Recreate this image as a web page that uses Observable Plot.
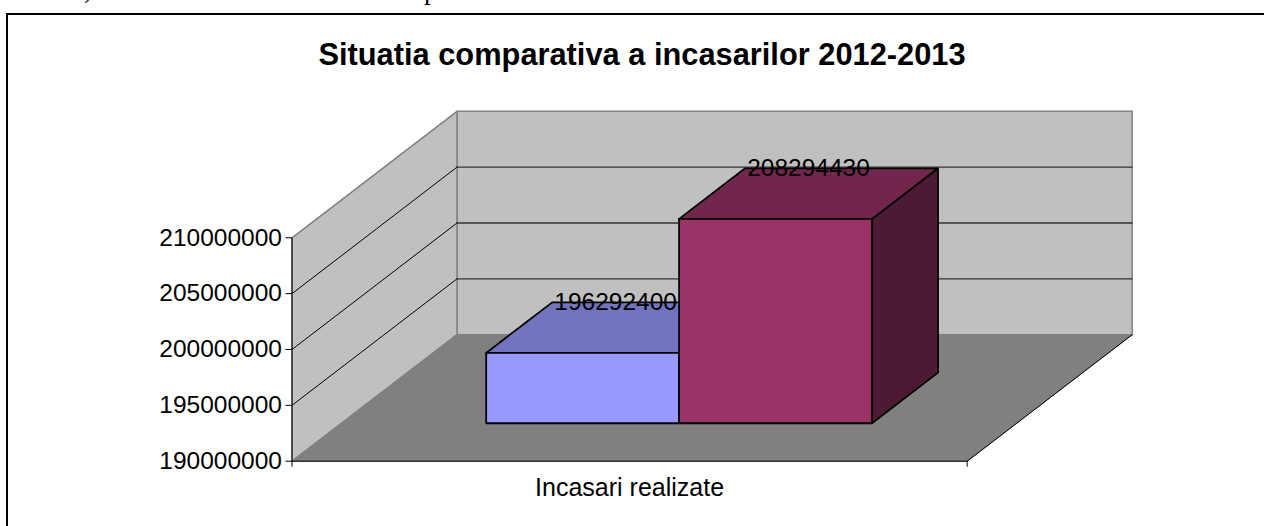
<!DOCTYPE html>
<html>
<head>
<meta charset="utf-8">
<script src="https://cdn.jsdelivr.net/npm/d3@7"></script>
<script src="https://cdn.jsdelivr.net/npm/@observablehq/plot@0.6"></script>
<style>
  html, body { margin: 0; padding: 0; background: #fff; overflow: hidden; }
  #page { position: relative; width: 1264px; height: 526px; overflow: hidden; }
  #frame { position: absolute; left: 6px; top: 13px; width: 1300px; height: 600px; border: 2.4px solid #000; box-sizing: border-box; }
  #title { position: absolute; left: 0; top: 37px; width: 1284px; text-align: center; font: bold 30.8px "Liberation Sans", Arial, sans-serif; color: #000; white-space: nowrap; }
  #clip { position: absolute; left: 0; top: -25px; width: 1264px; font: 27px "Liberation Serif", serif; color: #000; white-space: nowrap; }
  #clip span { position: absolute; }
  svg { position: absolute; left: 0; top: 0; }
</style>
</head>
<body>
<div id="page">
  <div id="clip"><span style="left:84px">,</span><span style="left:424px">p</span></div>
  <div id="frame"></div>
  <div id="chart"></div>
  <div id="title"></div>
</div>
<script>
const chartTitle = "Situatia comparativa a incasarilor 2012-2013";
const categoryLabel = "Incasari realizate";
const years = ["2012", "2013"];
const values = [196292400, 208294430];
const yTicks = [190000000, 195000000, 200000000, 205000000, 210000000];
const frontColors = ["#9999ff", "#993366"];
const topColors = ["#7373bf", "#73264d"];
const sideColors = ["#4d4d80", "#4d1a33"];

const yMin = 190000000, yMax = 210000000;
const depthX = 165 / 675.2;
const depthY = 126.5 / 223.4 * (yMax - yMin);
const gapRatio = 1.5;
const barW = 1 / (years.length + gapRatio);
const depthNear = 0.3, depthFar = 0.7;

const P = (u, v, d) => ({x: u + d * depthX, y: v + d * depthY});
const poly = (id, fill, pts) => [...pts, pts[0]].map(p => ({id, fill, ...p}));

document.getElementById("title").textContent = chartTitle;

const backWall = poly("back", "#c0c0c0", [P(0, yMin, 1), P(1, yMin, 1), P(1, yMax, 1), P(0, yMax, 1)]);
const leftWall = poly("left", "#c0c0c0", [P(0, yMin, 0), P(0, yMin, 1), P(0, yMax, 1), P(0, yMax, 0)]);
const floor = poly("floor", "#808080", [P(0, yMin, 0), P(1, yMin, 0), P(1, yMin, 1), P(0, yMin, 1)]);

const inner = yTicks.slice(1, -1);
const gridBack = inner.flatMap(t => [{id: t, ...P(0, t, 1)}, {id: t, ...P(1, t, 1)}]);
const gridLeft = inner.flatMap(t => [{id: t, ...P(0, t, 0)}, {id: t, ...P(0, t, 1)}]);

const barFaces = values.flatMap((v, i) => {
  const u0 = gapRatio / 2 * barW + i * barW, u1 = u0 + barW;
  const n = depthNear, f = depthFar;
  return [
    ...poly(`side${i}`, sideColors[i], [P(u1, yMin, n), P(u1, yMin, f), P(u1, v, f), P(u1, v, n)]),
    ...poly(`top${i}`, topColors[i], [P(u0, v, n), P(u1, v, n), P(u1, v, f), P(u0, v, f)]),
    ...poly(`front${i}`, frontColors[i], [P(u0, yMin, n), P(u1, yMin, n), P(u1, v, n), P(u0, v, n)])
  ];
});

const labels = values.map((v, i) => {
  const uc = gapRatio / 2 * barW + (i + 0.5) * barW;
  return {x: P(uc, v, 0.5).x, y: P(uc, v, depthFar).y, text: String(v)};
});

const fs = 24.5;
const chart = Plot.plot({
  width: 1264, height: 526,
  marginLeft: 291.5, marginRight: 1264 - 966.7,
  marginTop: 237.3, marginBottom: 526 - 460.7,
  style: {fontFamily: '"Liberation Sans", Arial, sans-serif', background: "transparent", overflow: "visible"},
  x: {domain: [0, 1], axis: null},
  y: {domain: [yMin, yMax], axis: null},
  marks: [
    Plot.line(backWall, {x: "x", y: "y", z: "id", fill: "fill", stroke: "#808080", strokeWidth: 1.5}),
    Plot.line(leftWall, {x: "x", y: "y", z: "id", fill: "fill", stroke: "#808080", strokeWidth: 1.5}),
    Plot.line(floor, {x: "x", y: "y", z: "id", fill: "fill", stroke: "#808080", strokeWidth: 1}),
    Plot.line([P(1, yMin, 0), P(1, yMin, 1)], {x: "x", y: "y", stroke: "#000", strokeWidth: 1}),
    Plot.line(gridBack, {x: "x", y: "y", z: "id", stroke: "#333", strokeWidth: 1.3}),
    Plot.line(gridLeft, {x: "x", y: "y", z: "id", stroke: "#000", strokeWidth: 1}),
    Plot.line(barFaces, {x: "x", y: "y", z: "id", fill: "fill", stroke: "#000", strokeWidth: 1.8, strokeLinejoin: "miter"}),
    Plot.ruleY([yMin], {stroke: "#000", strokeWidth: 1}),
    Plot.ruleX([0], {y1: yMin, y2: yMax, stroke: "#000", strokeWidth: 1}),
    Plot.axisY({ticks: yTicks, tickSize: 6, tickPadding: 4, tickFormat: d3.format("d"), fontSize: fs, label: null, color: "#000"}),
    Plot.axisX({ticks: [0, 1], tickSize: 6, tickFormat: () => "", label: null}),
    Plot.axisX({ticks: [0.5], tickSize: 0, tickPadding: 17, tickFormat: () => categoryLabel, fontSize: 25, label: null}),
    Plot.text(labels, {x: "x", y: "y", text: "text", fontSize: fs, fill: "#000", lineAnchor: "middle"})
  ]
});
document.getElementById("chart").appendChild(chart);
</script>
</body>
</html>
